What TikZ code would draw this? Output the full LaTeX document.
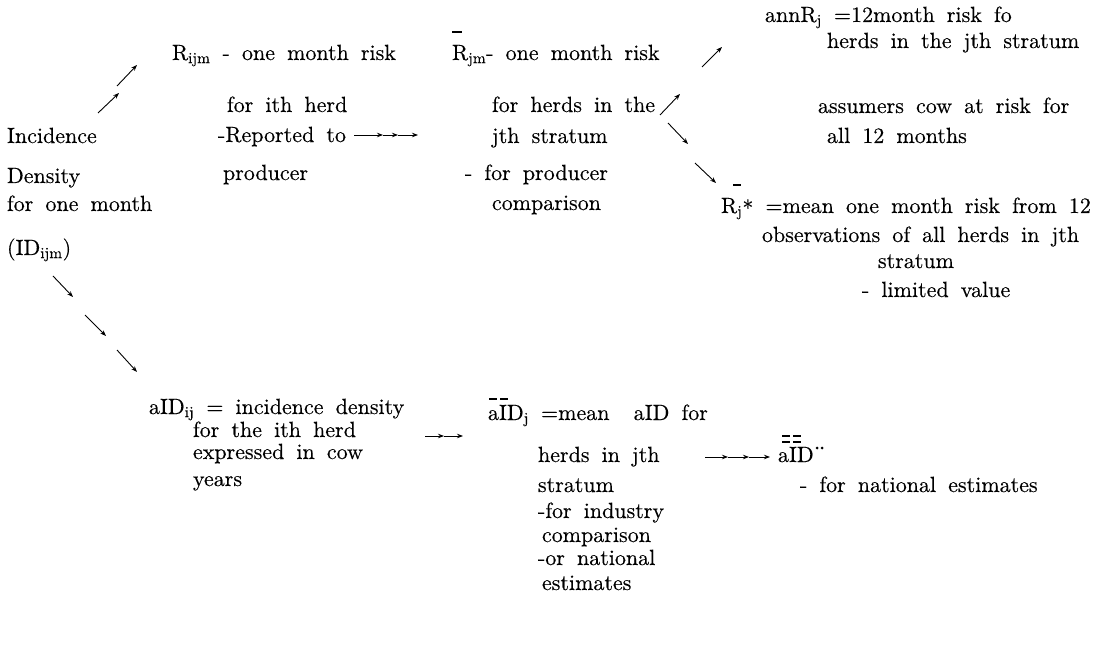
\documentclass[tikz,border=0pt]{standalone}
\usepackage{fontspec}
\setmainfont{lmroman10-regular.otf}[FakeBold=0.3]
\usetikzlibrary{arrows.meta}
\newcommand\dfont{\fontsize{22}{26}\selectfont\spaceskip=0.55em plus 0.1em minus 0.05em\relax}
\tikzset{
  txt/.style={anchor=base west, inner sep=0pt, outer sep=0pt, font=\dfont,
    text height=0.66em, text depth=0.16em},
  arr/.style={line width=0.9pt, -{Stealth[length=6pt,width=4.5pt]}},
  bar/.style={line width=1.2pt},
}
\begin{document}
\begin{tikzpicture}[x=1pt,y=-1pt]
\useasboundingbox (0,0) rectangle (1104,655);
% left column
\node[txt] (inc) at (7,143) {Incidence};
\node[txt] (den) at (7,183) {Density};
\node[txt] (fom) at (7,211) {for one month};
\node[txt] (idijm) at (7,255) {(ID\textsubscript{ijm})};
% second column
\node[txt] (rijm) at (172,60) {R\textsubscript{ijm} - one month risk};
\node[txt] (fith) at (227,112) {for ith herd};
\node[txt] (rep) at (218,142) {-Reported to};
\node[txt] (prod) at (223,180) {producer};
% third column
\node[txt] (rjm) at (452,60) {R\textsubscript{jm}- one month risk};
\node[txt] (fhit) at (492,112) {for herds in the};
\node[txt] (jths) at (492,143) {jth stratum};
\node[txt] (fprod) at (465,180) {- for producer};
\node[txt] (comp) at (492,210) {comparison};
% fourth column
\node[txt] (ann) at (765,22) {annR\textsubscript{j} =12month risk fo};
\node[txt] (hjs) at (827,48) {herds in the jth stratum};
\node[txt] (ass) at (818,113) {assumers cow at risk for};
\node[txt] (a12) at (827,143) {all 12 months};
\node[txt] (rjs) at (721,213) {R\textsubscript{j}\raisebox{-0.3ex}{*} =mean one month risk from 12};
\node[txt] (obs) at (762,242) {observations of all herds in jth};
\node[txt] (str1) at (878,268) {stratum};
\node[txt] (lim) at (862,297) {- limited value};
% bottom
\node[txt] (aidij) at (149,414) {aID\textsubscript{ij} = incidence density};
\node[txt] (fti) at (193,437) {for the ith herd};
\node[txt] (exp) at (193,459) {expressed in cow};
\node[txt] (yrs) at (193,486) {years};
\node[txt] (aidj) at (488,420) {aID\textsubscript{j} =mean\ \ aID for};
\node[txt] (hij) at (538,462) {herds in jth};
\node[txt] (str2) at (538,492) {stratum};
\node[txt] (find) at (538,518) {-for industry};
\node[txt] (comp2) at (542,542) {comparison};
\node[txt] (orn) at (538,565) {-or national};
\node[txt] (est) at (542,590) {estimates};
\node[txt] (aid) at (778,462) {aID};
\node[txt] (fne) at (800,492) {- for national estimates};
% bars and dots
\draw[bar] (452,32) -- (462,32);
\draw[bar] (733,185) -- (741,185);
\draw[bar] (489,399) -- (497,399);
\draw[bar] (500,399) -- (508,399);
\draw[bar] (782,436) -- (790,436);
\draw[bar] (793,436) -- (801,436);
\draw[bar] (782,442) -- (790,442);
\draw[bar] (793,442) -- (801,442);
\fill (817,448) circle (1.5);
\fill (822,448) circle (1.5);
% arrows up-right from incidence
\coordinate (u1s) at (98,113); \coordinate (u1e) at (119,93);
\coordinate (u2s) at (117,86); \coordinate (u2e) at (137,65);
\draw[arr] (u1s) -- (u1e);
\draw[arr] (u2s) -- (u2e);
% arrows down-right from incidence
\coordinate (d1s) at (53,276); \coordinate (d1e) at (73,297);
\coordinate (d2s) at (85,315); \coordinate (d2e) at (106,336);
\coordinate (d3s) at (117,350); \coordinate (d3e) at (137,372);
\draw[arr] (d1s) -- (d1e);
\draw[arr] (d2s) -- (d2e);
\draw[arr] (d3s) -- (d3e);
% reported to arrow chain
\coordinate (r0) at (354,135); \coordinate (r1) at (383,135);
\coordinate (r2) at (398,135); \coordinate (r3) at (418,135);
\draw[arr] (r0) -- (r1);
\draw[arr] (r1) -- (r2);
\draw[arr] (r2) -- (r3);
% third column arrows
\coordinate (t1s) at (702,67); \coordinate (t1e) at (722,47);
\coordinate (t2s) at (660,115); \coordinate (t2e) at (680,94);
\coordinate (t3s) at (668,123); \coordinate (t3e) at (688,144);
\coordinate (t4s) at (695,163); \coordinate (t4e) at (716,183);
\draw[arr] (t1s) -- (t1e);
\draw[arr] (t2s) -- (t2e);
\draw[arr] (t3s) -- (t3e);
\draw[arr] (t4s) -- (t4e);
% bottom chains
\coordinate (b0) at (425,436); \coordinate (b1) at (444,436); \coordinate (b2) at (463,436);
\draw[arr] (b0) -- (b1);
\draw[arr] (b1) -- (b2);
\coordinate (c0) at (705,457); \coordinate (c1) at (728,457);
\coordinate (c2) at (749,457); \coordinate (c3) at (770,457);
\draw[arr] (c0) -- (c1);
\draw[arr] (c1) -- (c2);
\draw[arr] (c2) -- (c3);
\end{tikzpicture}
\end{document}
